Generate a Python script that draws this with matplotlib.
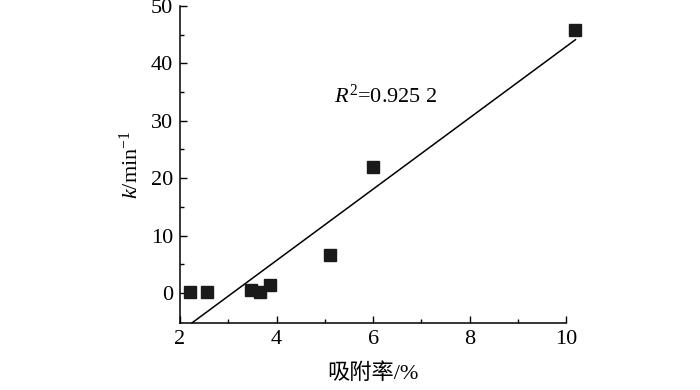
import numpy as np
import matplotlib
matplotlib.use("Agg")
import matplotlib.pyplot as plt

# adsorption rate (%) vs rate constant k (min^-1)
adsorption = [2.21, 2.57, 3.47, 3.66, 3.87, 5.11, 6.00, 10.17]
k_values = [0.1, 0.1, 0.6, 0.2, 1.4, 6.6, 21.9, 45.8]

# fitted line
fit_x = [2.25, 10.19]
fit_slope = 6.21
fit_intercept = -19.17
r2_text = "0.925 2"

plt.rcParams["font.family"] = ["Liberation Serif", "Noto Sans CJK SC"]
plt.rcParams["mathtext.fontset"] = "custom"
plt.rcParams["mathtext.rm"] = "Liberation Serif"
plt.rcParams["mathtext.it"] = "Liberation Serif:italic"

fig = plt.figure(figsize=(7, 3.9), dpi=100)
ax = fig.add_axes([0.257, 0.172, 0.552, 0.813])

fx = np.array(fit_x)
ax.plot(fx, fit_slope * fx + fit_intercept, color="black", lw=1.1, clip_on=False)
ax.plot(adsorption, k_values, "s", color="#1a1a1a", ms=8.5, clip_on=False)

ax.set_xlim(2, 10)
ax.set_ylim(-5.2, 50)
ax.set_xticks([2, 4, 6, 8, 10])
ax.set_xticks([3, 5, 7, 9], minor=True)
ax.set_yticks([0, 10, 20, 30, 40, 50])
ax.set_yticks([5, 15, 25, 35, 45], minor=True)
ax.tick_params(direction="in", labelsize=16, width=1, length=5, pad=5)
ax.tick_params(which="minor", direction="in", width=1, length=3)
ax.spines["top"].set_visible(False)
ax.spines["right"].set_visible(False)
for s in ("left", "bottom"):
    ax.spines[s].set_linewidth(1.1)

ax.text(5.2, 34.2, r"$R^2$=" + r2_text, fontsize=16, va="center")
ax.set_ylabel(r"$k$/min$^{-1}$", fontsize=16, labelpad=6)
ax.set_xlabel("吸附率/%", fontsize=16, labelpad=10)

fig.savefig("out.png", dpi=100)
